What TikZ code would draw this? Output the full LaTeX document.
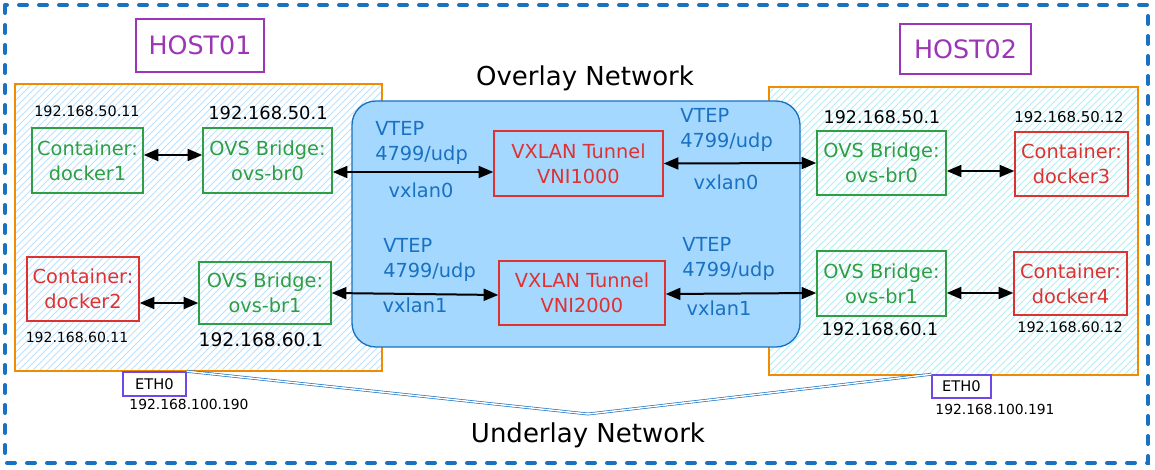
\documentclass[tikz,border=0pt]{standalone}
\usepackage{fontspec}
\setmainfont{DejaVu Sans}
\usetikzlibrary{arrows.meta}
\definecolor{exblue}{HTML}{1971C2}
\definecolor{exlblue}{HTML}{A5D8FF}
\definecolor{exgreen}{HTML}{2F9E44}
\definecolor{exred}{HTML}{E03131}
\definecolor{expurple}{HTML}{9C36B5}
\definecolor{exviolet}{HTML}{7048E8}
\definecolor{exorange}{HTML}{F08C00}
\definecolor{excyan}{HTML}{99E9F2}
\newcommand{\pxu}{0.75pt}
\begin{document}
\begin{tikzpicture}[x=0.75pt,y=-0.75pt,
  box/.style={draw, line width=1.1pt, inner sep=0pt, align=center, font=\fontsize{14.5}{18.75}\selectfont},
  greenbox/.style={box, draw=exgreen, text=exgreen},
  redbox/.style={box, draw=exred, text=exred},
  hostlabel/.style={draw=expurple, line width=1.1pt, text=expurple, inner sep=0pt, font=\fontsize{19}{22}\selectfont},
  ethbox/.style={draw=exviolet, line width=1.1pt, inner sep=0pt, font=\fontsize{11}{13}\selectfont},
  iptext/.style={inner sep=0pt, font=\fontsize{#1}{#1}\selectfont},
  vtep/.style={text=exblue, align=left, anchor=west, inner sep=0pt, font=\fontsize{14.5}{18.75}\selectfont},
  vx/.style={text=exblue, inner sep=0pt, font=\fontsize{14.5}{16}\selectfont},
  title/.style={inner sep=0pt, font=\fontsize{19.5}{22}\selectfont},
  link/.style={line width=1.5pt, {Triangle[length=11pt,width=9pt]}-{Triangle[length=11pt,width=9pt]}},
  hatch/.style={line width=0.6pt},
]
\useasboundingbox (0,0) rectangle (1155,470);

% outer dashed frame
\draw[exblue, line width=3pt, line cap=round, dash pattern=on 6pt off 9pt] (5,5) rectangle (1148,463);

% host areas (hatched)
\begin{scope}
  \clip (15,84) rectangle (382,371);
  \foreach \s in {-290,-283,...,390} {
    \draw[hatch, exlblue!75] (\s,371) -- ++(287,-287);
  }
\end{scope}
\draw[exorange, line width=1.1pt] (15,84) rectangle (382,371);
\begin{scope}
  \clip (769,87) rectangle (1138,375);
  \foreach \s in {480,487,...,1145} {
    \draw[hatch, excyan!75] (\s,375) -- ++(288,-288);
  }
\end{scope}
\draw[exorange, line width=1.1pt] (769,87) rectangle (1138,375);

% overlay network
\draw[exblue, fill=exlblue, line width=1pt, rounded corners=18pt] (352,101) rectangle (800,347);
\node[title] (overlay) at (585,78) {Overlay Network};
\node[title] (underlay) at (588,435) {Underlay Network};

% host labels
\node[hostlabel, minimum width=128*\pxu, minimum height=53*\pxu] (host1) at (200,45.5) {HOST01};
\node[hostlabel, minimum width=131*\pxu, minimum height=50*\pxu] (host2) at (965.5,49) {HOST02};

% left host boxes
\node[greenbox, minimum width=111*\pxu, minimum height=65*\pxu] (docker1) at (87.5,160.5) {Container:\\docker1};
\node[greenbox, minimum width=129*\pxu, minimum height=65*\pxu] (ovsL0) at (267.5,160.5) {OVS Bridge:\\ovs-br0};
\node[redbox, minimum width=112*\pxu, minimum height=64*\pxu] (docker2) at (83,289) {Container:\\docker2};
\node[greenbox, minimum width=132*\pxu, minimum height=62*\pxu] (ovsL1) at (265,293) {OVS Bridge:\\ovs-br1};

% tunnels
\node[redbox, minimum width=169*\pxu, minimum height=65*\pxu] (vni1) at (578.5,163.5) {VXLAN Tunnel\\VNI1000};
\node[redbox, minimum width=166*\pxu, minimum height=64*\pxu] (vni2) at (582,293) {VXLAN Tunnel\\VNI2000};

% right host boxes
\node[greenbox, minimum width=129*\pxu, minimum height=64*\pxu] (ovsR0) at (881.5,163) {OVS Bridge:\\ovs-br0};
\node[redbox, minimum width=113*\pxu, minimum height=64*\pxu] (docker3) at (1071.5,164) {Container:\\docker3};
\node[greenbox, minimum width=129*\pxu, minimum height=65*\pxu] (ovsR1) at (881.5,283.5) {OVS Bridge:\\ovs-br1};
\node[redbox, minimum width=113*\pxu, minimum height=63*\pxu] (docker4) at (1070.5,283.5) {Container:\\docker4};

% IP labels
\node[iptext=10.8] (ip1) at (87,111) {192.168.50.11};
\node[iptext=13.4] (ip2) at (268,113) {192.168.50.1};
\node[iptext=10.5] (ip3) at (77,337) {192.168.60.11};
\node[iptext=14] (ip4) at (261,340) {192.168.60.1};
\node[iptext=13.1] (ip5) at (882,117) {192.168.50.1};
\node[iptext=11.2] (ip6) at (1069,117) {192.168.50.12};
\node[iptext=13.1] (ip7) at (880,329) {192.168.60.1};
\node[iptext=10.8] (ip8) at (1070,327) {192.168.60.12};

% VTEP labels
\node[vtep] (vtepL0) at (375,142.5) {VTEP\\4799/udp};
\node[vx] (vxL0) at (421,190) {vxlan0};
\node[vtep] (vtepL1) at (383,259.5) {VTEP\\4799/udp};
\node[vx] (vxL1) at (415,305) {vxlan1};
\node[vtep] (vtepR0) at (680,129.5) {VTEP\\4799/udp};
\node[vx] (vxR0) at (726,182) {vxlan0};
\node[vtep] (vtepR1) at (682,258.5) {VTEP\\4799/udp};
\node[vx] (vxR1) at (719,308) {vxlan1};

% ETH0
\node[ethbox, minimum width=63*\pxu, minimum height=24*\pxu] (eth0L) at (154.5,384) {ETH0};
\node[iptext=10.4] (ipL) at (189,404) {192.168.100.190};
\node[ethbox, minimum width=59*\pxu, minimum height=23*\pxu] (eth0R) at (961.5,386.5) {ETH0};
\node[iptext=10.4] (ipR) at (995,409) {192.168.100.191};

% underlay links
\coordinate (meet) at (588,414);
\draw[exblue, line width=0.5pt, double=white, double distance=1.1pt] (eth0L.north east) -- (meet) -- (eth0R.north west);

% links
\draw[link] ([yshift=5.5*\pxu]docker1.east) -- ([yshift=5.5*\pxu]ovsL0.west);
\draw[link] ([yshift=-11.5*\pxu]ovsL0.east) -- ([yshift=-8.5*\pxu]vni1.west);
\draw[link] (vni1.east) -- (ovsR0.west);
\draw[link] ([yshift=-8*\pxu]ovsR0.east) -- ([yshift=-7*\pxu]docker3.west);
\draw[link] ([yshift=-14*\pxu]docker2.east) -- ([yshift=-10*\pxu]ovsL1.west);
\draw[link] (ovsL1.east) -- ([yshift=-2*\pxu]vni2.west);
\draw[link] ([yshift=-1*\pxu]vni2.east) -- ([yshift=-9.5*\pxu]ovsR1.west);
\draw[link] ([yshift=-9.5*\pxu]ovsR1.east) -- ([yshift=-9.5*\pxu]docker4.west);
\end{tikzpicture}
\end{document}
